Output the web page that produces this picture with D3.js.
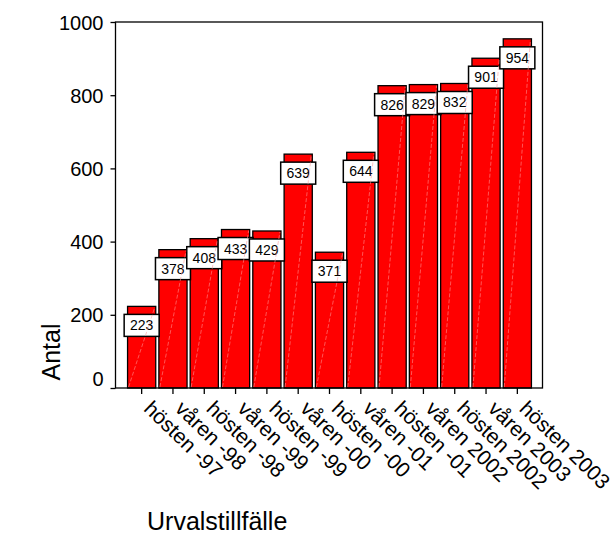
<!DOCTYPE html>
<html>
<head>
<meta charset="utf-8">
<script src="https://cdn.jsdelivr.net/npm/d3@7"></script>
<style>
  html, body { margin: 0; padding: 0; background: #fff; }
  text { font-family: Arial, "Liberation Sans", Helvetica, sans-serif; fill: #000; }
</style>
</head>
<body>
<svg id="chart" width="614" height="554"></svg>
<script>
const categories = ["hösten -97", "våren -98", "hösten -98", "våren -99", "hösten -99", "våren -00",
  "hösten -00", "våren -01", "hösten -01", "våren 2002", "hösten 2002", "våren 2003", "hösten 2003"];
const values = [223, 378, 408, 433, 429, 639, 371, 644, 826, 829, 832, 901, 954];
const yTicks = [0, 200, 400, 600, 800, 1000];
const yTitle = "Antal";
const xTitle = "Urvalstillfälle";

const svg = d3.select("#chart");
svg.append("rect").attr("width", 614).attr("height", 554).attr("fill", "#fff");

const plot = { left: 115.5, right: 542.5, top: 22, bottom: 388 };

const y = d3.scaleLinear().domain([0, 1000]).range([plot.bottom, plot.top]);
const x = d3.scaleBand().domain(categories).range([126, 533]).paddingInner(0.1).paddingOuter(0.05);

// bars
const g = svg.append("g");
g.selectAll("rect.bar").data(values).enter().append("rect")
  .attr("class", "bar")
  .attr("x", (d, i) => x(categories[i]))
  .attr("y", d => y(d))
  .attr("width", x.bandwidth())
  .attr("height", d => y(0) - y(d))
  .attr("fill", "#ff0000")
  .attr("stroke", "#000")
  .attr("stroke-width", 1.3);

// value boxes
const boxW = 35, boxH = 22;
const boxes = g.selectAll("g.lab").data(values).enter().append("g").attr("class", "lab")
  .attr("transform", (d, i) => `translate(${x(categories[i]) + x.bandwidth() / 2},${y(d) + 8})`);
boxes.append("rect")
  .attr("x", -boxW / 2).attr("y", 0).attr("width", boxW).attr("height", boxH)
  .attr("fill", "#fff").attr("stroke", "#000").attr("stroke-width", 1.5);
boxes.append("text")
  .attr("x", 0).attr("y", boxH / 2 + 5)
  .attr("text-anchor", "middle")
  .style("font-size", "14px")
  .text(d => d);

// faint diagonal lines
g.selectAll("line.diag").data(values).enter().append("line")
  .attr("x1", (d, i) => x(categories[i]) + 1)
  .attr("y1", y(0) - 1)
  .attr("x2", (d, i) => x(categories[i]) + x.bandwidth() - 1)
  .attr("y2", d => y(d) + 1)
  .attr("stroke", "#ff9a9a")
  .attr("stroke-width", 0.7)
  .attr("stroke-dasharray", "4,2")
  .attr("opacity", 0.8);

// frame
svg.append("rect")
  .attr("x", plot.left).attr("y", plot.top)
  .attr("width", plot.right - plot.left).attr("height", plot.bottom - plot.top)
  .attr("fill", "none").attr("stroke", "#000").attr("stroke-width", 1.3);

// y axis
const yAxis = svg.append("g").attr("transform", `translate(${plot.left},0)`)
  .call(d3.axisLeft(y).tickValues(yTicks).tickFormat(d3.format("d")).tickSize(5).tickPadding(7));
yAxis.select(".domain").remove();
yAxis.selectAll("line").attr("stroke", "#000").attr("stroke-width", 1.3);
yAxis.selectAll("text").style("font-size", "20px").style("font-family", "Arial, 'Liberation Sans', sans-serif")
  .attr("dy", d => d === 0 ? "-0.15em" : "0.35em");

// x axis
const xAxis = svg.append("g").attr("transform", `translate(0,${plot.bottom})`)
  .call(d3.axisBottom(x).tickSize(6).tickSizeOuter(0));
xAxis.select(".domain").remove();
xAxis.selectAll("line").attr("stroke", "#000").attr("stroke-width", 1.3);
xAxis.selectAll("text")
  .style("font-size", "21px").style("font-family", "Arial, 'Liberation Sans', sans-serif")
  .attr("text-anchor", "start")
  .attr("dy", null)
  .attr("y", 0)
  .attr("transform", "translate(1,22) rotate(44)");

// axis titles
svg.append("text")
  .attr("transform", "translate(60,352) rotate(-90)")
  .attr("text-anchor", "middle")
  .style("font-size", "25px")
  .text(yTitle);
svg.append("text")
  .attr("x", 147).attr("y", 530)
  .style("font-size", "25px")
  .text(xTitle);
</script>
</body>
</html>
